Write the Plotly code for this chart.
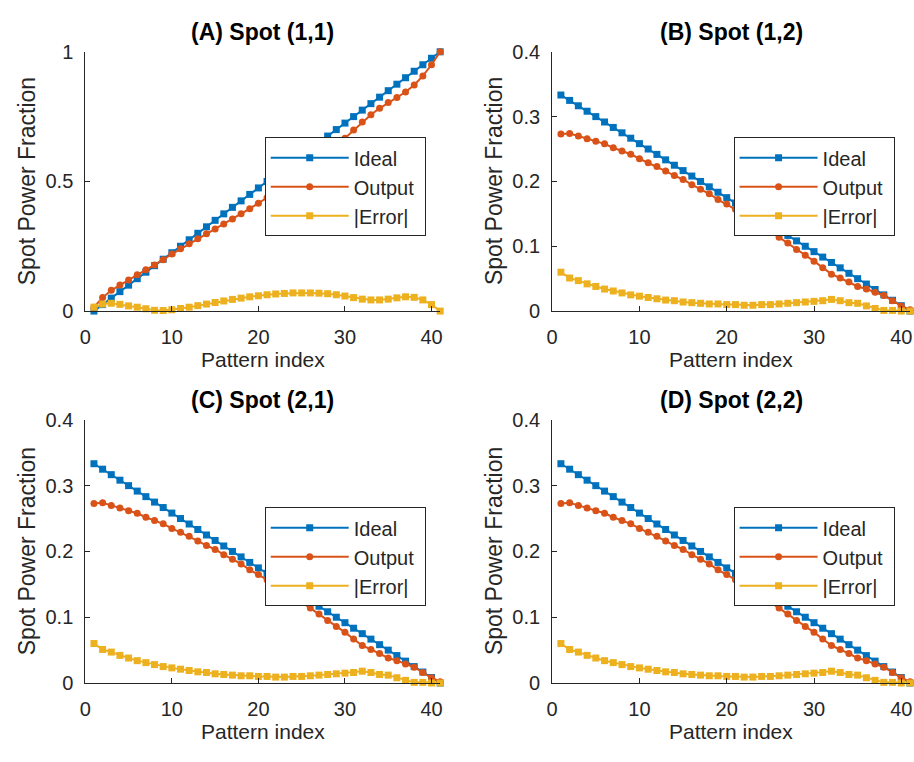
import plotly.graph_objects as go

idx = list(range(1, 42))

ideal_a = [0.0, 0.025, 0.05, 0.075, 0.1, 0.125, 0.15, 0.175, 0.2, 0.225, 0.25, 0.275, 0.3, 0.325,
           0.35, 0.375, 0.4, 0.425, 0.45, 0.475, 0.5, 0.525, 0.55, 0.575, 0.6, 0.625, 0.65, 0.675,
           0.7, 0.725, 0.75, 0.775, 0.8, 0.825, 0.85, 0.875, 0.9, 0.925, 0.95, 0.975, 1.0]
output_a = [0.015, 0.052, 0.08, 0.101, 0.12, 0.14, 0.159, 0.178, 0.198, 0.22, 0.24, 0.26, 0.279, 0.298,
            0.317, 0.336, 0.355, 0.375, 0.395, 0.416, 0.437, 0.459, 0.482, 0.505, 0.53, 0.555, 0.581,
            0.608, 0.637, 0.667, 0.698, 0.729, 0.757, 0.782, 0.804, 0.824, 0.845, 0.872, 0.907, 0.95, 1.0]
error_a = [0.015, 0.027, 0.03, 0.026, 0.02, 0.015, 0.009, 0.003, 0.002, 0.005, 0.01, 0.015, 0.021, 0.027,
           0.033, 0.039, 0.045, 0.05, 0.055, 0.059, 0.063, 0.066, 0.068, 0.07, 0.07, 0.07, 0.069,
           0.067, 0.063, 0.058, 0.052, 0.046, 0.043, 0.043, 0.046, 0.051, 0.055, 0.053, 0.043, 0.025, 0.0]

ideal_b = [0.3333, 0.325, 0.3167, 0.3083, 0.3, 0.2917, 0.2833, 0.275, 0.2667, 0.2583, 0.25, 0.2417,
           0.2333, 0.225, 0.2167, 0.2083, 0.2, 0.1917, 0.1833, 0.175, 0.1667, 0.1583, 0.15, 0.1417,
           0.1333, 0.125, 0.1167, 0.1083, 0.1, 0.0917, 0.0833, 0.075, 0.0667, 0.0583, 0.05, 0.0417,
           0.0333, 0.025, 0.0167, 0.0083, 0.0]
output_b = [0.273, 0.274, 0.27, 0.266, 0.262, 0.258, 0.252, 0.247, 0.242, 0.235, 0.229, 0.223, 0.216,
            0.209, 0.203, 0.195, 0.188, 0.181, 0.172, 0.165, 0.157, 0.149, 0.141, 0.132, 0.123, 0.114,
            0.105, 0.095, 0.086, 0.077, 0.067, 0.057, 0.051, 0.045, 0.038, 0.034, 0.029, 0.024, 0.016,
            0.008, 0.002]
error_b = [0.06, 0.051, 0.047, 0.042, 0.038, 0.034, 0.031, 0.028, 0.025, 0.023, 0.021, 0.019, 0.017,
           0.016, 0.014, 0.013, 0.012, 0.011, 0.011, 0.01, 0.01, 0.009, 0.009, 0.01, 0.01, 0.011, 0.012,
           0.013, 0.014, 0.015, 0.016, 0.018, 0.016, 0.013, 0.012, 0.008, 0.004, 0.001, 0.001, 0.0, 0.0]

ideal_c, output_c, error_c = ideal_b, output_b, error_b
ideal_d, output_d, error_d = ideal_b, output_b, error_b

titles = ["(A) Spot (1,1)", "(B) Spot (1,2)", "(C) Spot (2,1)", "(D) Spot (2,2)"]
series_names = ["Ideal", "Output", "|Error|"]
colors = ["#0072BD", "#D95319", "#EDB120"]
symbols = ["square", "circle", "square"]

W, H = 914, 762
FONT = "Liberation Sans, Arial, sans-serif"
TXT = "#262626"

# pixel boxes of plot areas: (left, right, top, bottom)
boxes = [(80, 438, 42, 309), (551, 912, 42, 309), (80, 438, 421, 692), (551, 912, 421, 692)]
yranges = [[0, 1], [0, 0.4], [0, 0.4], [0, 0.4]]
ydticks = [0.5, 0.1, 0.1, 0.1]
legend_pos = [(261, 130), (734, 130), (261, 511), (734, 511)]
data = [(ideal_a, output_a, error_a), (ideal_b, output_b, error_b),
        (ideal_c, output_c, error_c), (ideal_d, output_d, error_d)]

fig = go.Figure()
layout = dict(width=W, height=H, margin=dict(l=0, r=0, t=0, b=0),
              paper_bgcolor="white", plot_bgcolor="white",
              font=dict(family=FONT, color=TXT, size=20), annotations=[])

for k in range(4):
    n = "" if k == 0 else str(k + 1)
    l, r, t, b = boxes[k]
    legname = "legend" if k == 0 else f"legend{k + 1}"
    for s in range(3):
        fig.add_trace(go.Scatter(
            x=idx, y=data[k][s], name=series_names[s] + "\u00a0", mode="lines+markers",
            line=dict(color=colors[s], width=2),
            marker=dict(symbol=symbols[s], size=7, color=colors[s]),
            xaxis="x" + n, yaxis="y" + n, legend=legname, cliponaxis=False))
    layout["xaxis" + n] = dict(
        domain=[l / W, r / W], range=[0, 41], anchor="y" + n,
        tickvals=[0, 10, 20, 30, 40], ticks="inside", ticklen=5, tickcolor=TXT,
        showline=True, linecolor=TXT, linewidth=1, showgrid=False, zeroline=False,
        tickfont=dict(size=20, color=TXT), ticklabelstandoff=8, fixedrange=True)
    layout["yaxis" + n] = dict(
        domain=[1 - b / H, 1 - t / H], range=yranges[k], anchor="x" + n,
        dtick=ydticks[k], tick0=0, ticks="inside", ticklen=5, tickcolor=TXT,
        showline=True, linecolor=TXT, linewidth=1, showgrid=False, zeroline=False,
        tickfont=dict(size=20, color=TXT), ticklabelstandoff=7, fixedrange=True)
    lx, ly = legend_pos[k]
    layout[legname] = dict(
        x=lx / W, y=1 - ly / H, xanchor="left", yanchor="top",
        bgcolor="white", bordercolor="#262626", borderwidth=1,
        font=dict(family=FONT, size=20, color=TXT), itemwidth=78)
    cx = (l + r) / 2
    layout["annotations"].append(dict(
        text="<b>" + titles[k] + "</b>", x=cx / W, y=1 - (t - 20) / H, xref="paper", yref="paper",
        showarrow=False, xanchor="center", yanchor="middle",
        font=dict(family=FONT, size=23, color="black")))
    layout["annotations"].append(dict(
        text="Pattern index", x=cx / W, y=1 - (b + 50) / H, xref="paper", yref="paper",
        showarrow=False, xanchor="center", yanchor="middle",
        font=dict(family=FONT, size=21, color=TXT)))
    layout["annotations"].append(dict(
        text="Spot Power Fraction", x=(l - 58) / W, y=1 - ((t + b) / 2) / H, xref="paper",
        yref="paper", showarrow=False, xanchor="center", yanchor="middle", textangle=-90,
        font=dict(family=FONT, size=23, color=TXT)))

fig.update_layout(**layout)
fig.write_html("out.html")
